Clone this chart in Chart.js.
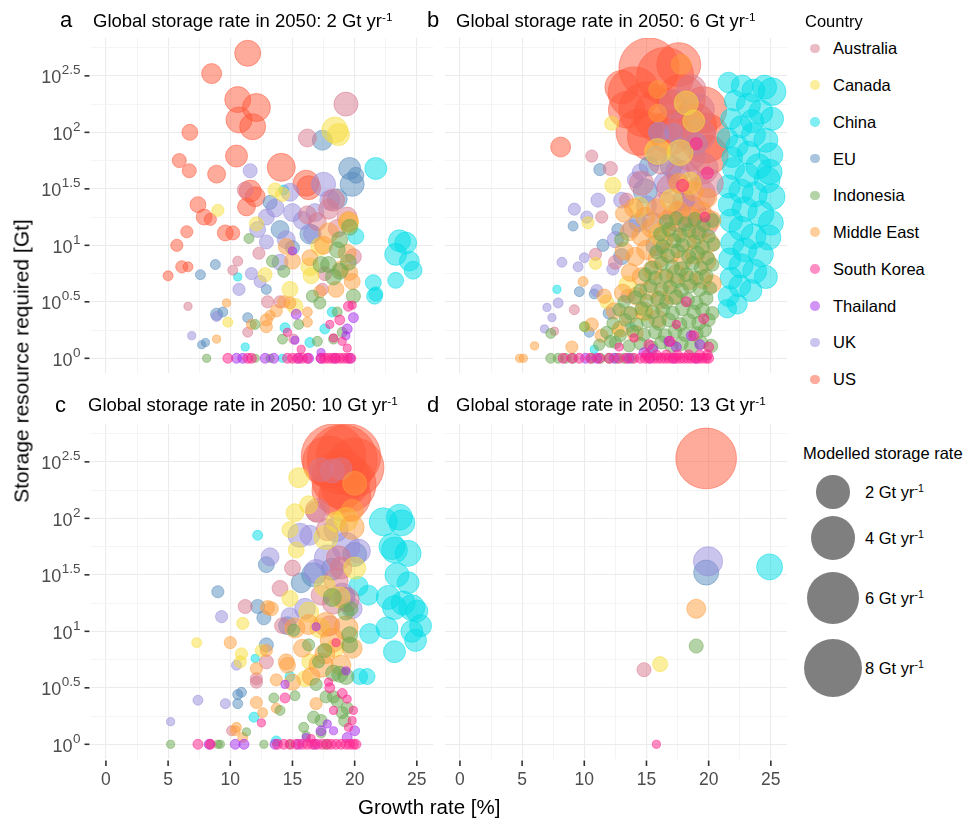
<!DOCTYPE html>
<html>
<head>
<meta charset="utf-8">
<script src="https://cdn.jsdelivr.net/npm/chart.js@4/dist/chart.umd.min.js"></script>
<style>
  body { margin: 0; background: #fff; font-family: "Liberation Sans", Arial, sans-serif; }
  #fig { position: relative; width: 967px; height: 820px; overflow: hidden; }
  canvas { position: absolute; }
  .txt { position: absolute; white-space: nowrap; color: #000; }
  .txt sup { font-size: 0.64em; vertical-align: 0.55em; line-height: 0; }
  .dot, .size { position: absolute; border-radius: 50%; }
</style>
</head>
<body>
<div id="fig">
  <canvas id="pa" width="440" height="395" style="left:0;top:0"></canvas>
  <canvas id="pb" width="350" height="395" style="left:440px;top:0"></canvas>
  <canvas id="pc" width="440" height="425" style="left:0;top:395px"></canvas>
  <canvas id="pd" width="350" height="425" style="left:440px;top:395px"></canvas>
</div>
<script>
const countries = ['Australia', 'Canada', 'China', 'EU', 'Indonesia', 'Middle East', 'South Korea', 'Thailand', 'UK', 'US'];
const countryColours = ['215,120,142', '247,222,60', '0,222,232', '85,140,190', '105,168,80',
  '255,158,60', '255,30,140', '165,40,240', '150,140,220', '255,88,58'];
// 0 is drawn on top
const drawRank = [5, 4, 8, 7, 2, 3, 0, 1, 6, 9];

const panelLetters = ['a', 'b', 'c', 'd'];
const panelRates = [2, 6, 10, 13];
const xTicks = [0, 5, 10, 15, 20, 25];
const xGrid = [0, 2.5, 5, 7.5, 10, 12.5, 15, 17.5, 20, 22.5, 25];
const yTickExps = [0, 0.5, 1, 1.5, 2, 2.5];
const yGridExps = [0, 0.25, 0.5, 0.75, 1, 1.25, 1.5, 1.75, 2, 2.25, 2.5, 2.75];
const legendRates = [2, 4, 6, 8];

// rows: [country, growth rate %, log10 storage resource (Gt), modelled storage rate (Gt/yr)]
const panelA = [
  ['US',11.4,2.70,1.0],['US',8.5,2.52,0.44],['US',10.6,2.29,1.0],['US',12.1,2.22,1.24],['US',10.7,2.11,1.0],
  ['US',11.8,2.05,1.0],['US',6.75,2.0,0.19],['US',10.5,1.79,0.6],['US',5.9,1.75,0.11],['US',6.7,1.66,0.11],
  ['US',8.9,1.63,0.3],['US',14.1,1.69,1.24],['US',16.1,1.55,1.0],['US',16.3,1.51,0.79],['US',11.6,1.48,0.6],
  ['US',12.0,1.43,0.44],['US',11.3,1.34,0.3],['US',7.4,1.36,0.19],['US',7.9,1.25,0.19],['US',8.4,1.23,0.05],
  ['US',9.6,1.11,0.19],['US',10.2,1.11,0.11],['US',6.5,1.12,0.05],['US',5.7,1.0,0.05],['US',5.0,0.73,0.01],
  ['US',6.1,0.81,0.05],['US',6.6,0.81,0.01],
  ['Australia',19.3,2.25,0.79],['Australia',16.2,1.95,0.3],['Australia',11.2,1.49,0.19],['Australia',18.3,1.40,0.6],
  ['Australia',17.9,1.32,0.44],['Australia',16.2,1.27,0.3],['Australia',17.0,1.21,0.3],['Australia',19.4,1.25,0.44],
  ['Australia',19.9,0.90,0.19],['Australia',12.3,0.93,0.05],['Australia',10.6,0.86,0.01],['Australia',10.2,0.78,0.01],
  ['Australia',13.0,0.50,0.05],['Australia',14.0,0.50,0.05],['Australia',17.4,0.61,0.05],['Australia',11.4,0.23,0.01],
  ['Australia',6.6,0.46,0.0],['Australia',15.1,0.17,0.01],['Australia',18.6,1.15,0.3],['Australia',17.6,0.75,0.11],
  ['EU',17.4,1.93,0.44],['EU',19.6,1.68,0.6],['EU',19.8,1.54,0.79],['EU',20.1,1.62,0.19],['EU',18.6,1.41,0.44],
  ['EU',13.2,1.38,0.11],['EU',14.0,1.14,0.3],['EU',16.4,1.10,0.44],['EU',7.6,0.74,0.01],['EU',8.8,0.83,0.01],
  ['EU',12.9,0.61,0.01],['EU',8.9,0.39,0.05],['EU',9.4,0.41,0.01],['EU',11.4,0.36,0.01],['EU',7.7,0.12,0.0],
  ['EU',8.0,0.14,0.0],['EU',15.0,0.98,0.11],
  ['UK',11.6,1.66,0.11],['UK',17.5,1.54,0.79],['UK',18.0,1.40,0.44],['UK',15.0,1.29,0.3],['UK',13.6,1.33,0.3],
  ['UK',12.9,1.25,0.19],['UK',12.2,1.14,0.19],['UK',12.9,1.03,0.11],['UK',14.5,1.05,0.3],['UK',11.7,0.75,0.05],
  ['UK',12.4,0.68,0.05],['UK',10.7,0.61,0.05],['UK',8.9,0.37,0.01],['UK',6.9,0.20,0.0],['UK',14.0,0.85,0.19],
  ['UK',15.8,1.22,0.3],['UK',16.8,1.29,0.3],['UK',14.8,1.47,0.3],['UK',16.6,1.1,0.3],
  ['Canada',18.4,2.02,1.0],['Canada',18.7,1.98,0.6],['Canada',13.6,1.49,0.11],['Canada',14.2,1.45,0.11],
  ['Canada',9.0,1.31,0.05],['Canada',12.1,1.19,0.11],['Canada',19.5,1.20,0.44],['Canada',17.2,0.99,0.3],
  ['Canada',12.8,0.74,0.11],['Canada',14.8,0.61,0.19],['Canada',15.2,0.46,0.19],['Canada',9.8,0.32,0.01],
  ['Canada',16.4,0.81,0.3],['Canada',16.5,0.73,0.19],
  ['China',21.7,1.68,0.6],['China',20.1,1.08,0.19],['China',23.6,1.04,0.6],['China',24.1,1.02,0.6],['China',23.3,0.92,0.6],
  ['China',24.4,0.86,0.44],['China',24.7,0.78,0.3],['China',23.3,0.69,0.19],['China',21.5,0.67,0.19],['China',21.6,0.55,0.19],
  ['China',21.7,0.57,0.11],['China',14.3,1.49,0.01],['China',17.6,0.26,0.01],['China',18.2,0.41,0.01],['China',10.6,0.72,0.0],
  ['China',11.2,0.10,0.0],['China',14.4,0.27,0.01],['China',16.4,0.14,0.01],['China',14.2,0.0,0.0],
  ['Indonesia',11.5,1.06,0.01],['Indonesia',19.6,1.16,0.19],['Indonesia',18.8,1.05,0.19],['Indonesia',18.6,0.96,0.19],
  ['Indonesia',17.3,0.83,0.19],['Indonesia',17.9,0.83,0.19],['Indonesia',19.5,0.85,0.19],['Indonesia',18.3,0.72,0.19],
  ['Indonesia',18.8,0.77,0.19],['Indonesia',13.4,0.86,0.05],['Indonesia',14.3,0.77,0.05],['Indonesia',16.6,0.55,0.05],
  ['Indonesia',17.2,0.49,0.05],['Indonesia',19.9,0.55,0.11],['Indonesia',12.0,0.30,0.01],['Indonesia',15.5,0.30,0.01],
  ['Indonesia',14.2,0.17,0.01],['Indonesia',17.0,0.15,0.01],['Indonesia',18.3,0.17,0.01],['Indonesia',19.0,0.23,0.01],
  ['Indonesia',8.1,0.0,0.0],['Indonesia',12.0,0.0,0.0],['Indonesia',13.2,0.0,0.0],['Indonesia',18.6,0.41,0.01],
  ['Middle East',19.5,1.21,0.44],['Middle East',17.9,1.11,0.44],['Middle East',17.5,1.00,0.3],['Middle East',14.5,0.99,0.19],
  ['Middle East',15.0,0.86,0.19],['Middle East',16.4,0.89,0.19],['Middle East',19.4,0.93,0.3],['Middle East',19.8,0.68,0.19],
  ['Middle East',18.5,0.61,0.19],['Middle East',14.8,0.49,0.05],['Middle East',14.3,0.50,0.05],['Middle East',13.7,0.42,0.05],
  ['Middle East',12.9,0.34,0.05],['Middle East',13.2,0.38,0.01],['Middle East',11.7,0.30,0.01],['Middle East',12.9,0.28,0.05],
  ['Middle East',9.7,0.49,0.0],['Middle East',8.9,0.17,0.0],['Middle East',16.2,0.41,0.01],['Middle East',16.2,0.32,0.01],
  ['Middle East',17.2,0.59,0.05],['Middle East',18.9,0.79,0.19],['Middle East',19.6,0.76,0.19],
  ['South Korea',19.5,0.46,0.01],['South Korea',19.8,0.47,0.0],['South Korea',18.8,0.34,0.01],['South Korea',19.4,0.09,0.0],
  ['South Korea',18.3,0.18,0.0],['South Korea',19.0,0.15,0.0],['South Korea',15.7,0.08,0.0],['South Korea',14.6,0.23,0.0],
  ['South Korea',18.0,0.30,0.0],
  ['South Korea',9.8,0,0.01],['South Korea',11.4,0,0.01],['South Korea',11.7,0,0.01],['South Korea',14.6,0,0.01],
  ['South Korea',15.0,0,0.01],['South Korea',15.4,0,0.01],['South Korea',15.8,0,0.01],['South Korea',16.2,0,0.01],
  ['South Korea',17.3,0,0.01],['South Korea',17.6,0,0.01],['South Korea',17.9,0,0.01],['South Korea',18.2,0,0.01],
  ['South Korea',18.5,0,0.01],['South Korea',18.8,0,0.01],['South Korea',19.1,0,0.01],['South Korea',19.4,0,0.01],
  ['South Korea',19.7,0,0.01],
  ['Thailand',10.5,0,0.01],['Thailand',11.0,0,0.01],['Thailand',12.8,0,0.01],['Thailand',13.5,0,0.01],['Thailand',15.5,0,0.01],
  ['Thailand',16.3,0,0.01],['Thailand',17.3,0,0.01],['Thailand',18.4,0,0.01],['Thailand',19.6,0,0.01],
  ['Thailand',15.3,0.39,0.01],['Thailand',19.9,0.36,0.01],['Thailand',19.4,0.26,0.01],['Thailand',15.2,0.16,0.0],
  ['Thailand',17.3,0.05,0.0],['Thailand',15.0,0.95,0.0],['Thailand',19.3,0.20,0.0]
];

const panelB = [
  ['US',15.2,2.57,8.5],['US',14.0,2.35,6.0],['US',16.5,2.5,7.5],['US',15.0,2.2,7.0],['US',16.2,2.15,7.0],
  ['US',14.4,2.0,4.5],['US',15.4,1.96,5.0],['US',17.8,2.3,5.0],['US',18.7,2.05,5.0],['US',19.7,1.95,5.5],
  ['US',19.6,2.2,4.5],['US',20.0,1.8,3.0],['US',17.0,2.0,4.0],['US',13.4,2.2,2.5],['US',13.0,2.4,2.0],
  ['US',17.6,2.6,4.0],['US',8.1,1.87,0.44],
  ['China',21.6,2.44,0.5],['China',22.7,2.41,0.6],['China',23.6,2.37,0.7],['China',24.5,2.40,0.8],['China',25.1,2.36,1.2],
  ['China',22.1,2.28,0.5],['China',23.2,2.24,0.8],['China',24.2,2.18,0.8],['China',25.1,2.12,0.7],['China',21.8,2.12,0.5],
  ['China',22.6,2.05,0.6],['China',23.6,1.98,0.8],['China',24.6,1.93,0.8],['China',25.0,1.80,0.8],['China',22.3,1.88,0.6],
  ['China',23.2,1.82,0.7],['China',24.0,1.70,0.9],['China',22.0,1.68,0.6],['China',23.1,1.62,0.8],['China',24.7,1.58,1.0],
  ['China',21.6,1.52,0.7],['China',22.6,1.48,0.8],['China',23.7,1.45,0.9],['China',25.1,1.43,1.0],['China',21.7,1.36,0.7],
  ['China',22.9,1.32,0.9],['China',24.2,1.28,1.0],['China',25.0,1.20,0.9],['China',21.8,1.22,0.7],['China',22.6,1.15,0.8],
  ['China',23.6,1.08,0.9],['China',24.8,1.07,0.9],['China',21.9,1.02,0.7],['China',22.9,0.96,0.8],['China',24.2,0.92,0.9],
  ['China',21.7,0.88,0.6],['China',22.6,0.82,0.8],['China',23.7,0.77,0.8],['China',24.6,0.72,0.7],['China',21.8,0.71,0.6],
  ['China',22.5,0.64,0.6],['China',23.4,0.60,0.6],['China',21.6,0.55,0.5],['China',22.3,0.48,0.45],['China',21.5,0.44,0.35],
  ['China',21.5,1.95,0.5],['China',21.9,1.78,0.5],['China',24.9,1.65,0.9],['China',23.5,2.1,0.7],
  ['China',7.8,0.61,0.0],['China',10.8,0.08,0.0],['China',13.7,0.28,0.01],
  ['UK',9.2,1.32,0.05],['UK',10.2,1.25,0.05],['UK',11.1,1.4,0.11],['UK',13.0,1.4,0.19],['UK',14.1,1.58,0.19],
  ['UK',8.2,0.85,0.01],['UK',9.5,0.81,0.01],['UK',7.0,0.45,0.0],['UK',7.9,0.49,0.01],['UK',7.4,0.36,0.0],
  ['UK',6.8,0.26,0.0],['UK',10.0,0.89,0.01],['UK',12.3,0.79,0.05],['UK',14.5,1.65,0.19],['UK',15.0,1.35,0.44],
  ['UK',15.8,1.79,0.44],['UK',17.2,2.0,0.3],['UK',16.5,1.55,0.6],['UK',17.5,1.65,0.8],['UK',13.8,1.15,0.3],
  ['UK',12.5,1.05,0.2],['UK',11.0,0.6,0.05],['UK',15.5,1.2,0.5],['UK',17.8,1.85,0.8],['UK',16.0,2.0,0.5],['UK',19.0,1.9,0.6],
  ['EU',11.25,1.67,0.05],['EU',9.1,1.17,0.01],['EU',11.5,1.0,0.05],['EU',9.6,0.59,0.01],['EU',10.8,0.57,0.01],
  ['EU',12.7,1.14,0.05],['EU',10.4,0.23,0.01],['EU',14.9,1.48,0.79],['EU',14.3,1.2,0.3],['EU',13.0,0.9,0.2],
  ['EU',15.8,1.0,0.5],['EU',17.0,1.7,0.6],['EU',18.0,1.4,0.6],['EU',12.0,0.4,0.05],['EU',15.2,1.7,0.4],
  ['Australia',18.6,2.38,1.4],['Australia',19.2,2.2,1.7],['Australia',18.0,2.05,2.0],['Australia',19.3,1.98,1.7],
  ['Australia',18.5,1.8,1.7],['Australia',19.5,1.68,1.7],['Australia',18.0,1.6,2.0],['Australia',17.0,1.5,1.4],
  ['Australia',19.2,1.45,2.0],['Australia',18.5,1.3,1.7],['Australia',17.5,1.25,1.4],['Australia',19.6,1.2,1.4],
  ['Australia',16.5,1.35,1.1],['Australia',20.0,1.55,1.4],['Australia',16.2,1.75,1.1],['Australia',14.6,1.55,0.8],
  ['Australia',10.6,1.79,0.05],['Australia',12.1,1.68,0.11],['Australia',11.4,1.25,0.05],['Australia',10.9,0.92,0.05],
  ['Australia',7.6,0.24,0.0],['Australia',9.2,0.43,0.01],['Australia',13.4,1.4,0.11],['Australia',17.2,2.25,1.4],
  ['Australia',12.5,0.85,0.1],['Australia',13.5,0.55,0.1],
  ['Canada',12.2,2.08,0.11],['Canada',10.3,1.2,0.05],['Canada',10.9,0.84,0.05],['Canada',17.7,1.82,1.0],
  ['Canada',18.2,2.26,0.79],['Canada',14.4,1.34,0.44],['Canada',10.1,0.28,0.01],['Canada',12.7,0.25,0.05],
  ['Canada',15.9,1.83,1.0],['Canada',18.5,1.55,0.6],['Canada',17.0,1.4,0.6],['Canada',13.5,0.65,0.3],
  ['Canada',11.8,0.5,0.1],['Canada',18.8,2.1,0.6],['Canada',16.0,1.1,0.5],['Canada',14.8,0.4,0.2],['Canada',12.3,1.53,0.2],
  ['Middle East',17.8,2.6,0.44],['Middle East',15.9,2.38,0.3],['Middle East',15.9,2.17,0.3],
  ['Middle East',13.2,1.28,0.25],['Middle East',14.0,1.33,0.35],['Middle East',14.9,1.25,0.4],['Middle East',15.8,1.32,0.45],
  ['Middle East',16.7,1.22,0.45],['Middle East',17.6,1.3,0.45],['Middle East',18.5,1.25,0.5],['Middle East',19.4,1.3,0.45],
  ['Middle East',20.2,1.22,0.4],['Middle East',13.6,1.12,0.3],['Middle East',14.6,1.08,0.4],['Middle East',15.4,1.15,0.35],
  ['Middle East',16.3,1.05,0.45],['Middle East',17.2,1.12,0.4],['Middle East',18.2,1.05,0.45],['Middle East',19.1,1.1,0.4],
  ['Middle East',20.1,1.02,0.35],['Middle East',13.2,0.95,0.3],['Middle East',14.1,0.9,0.35],['Middle East',15.0,0.96,0.4],
  ['Middle East',15.9,0.88,0.4],['Middle East',16.9,0.93,0.45],['Middle East',17.9,0.87,0.4],['Middle East',18.9,0.92,0.4],
  ['Middle East',19.8,0.86,0.4],['Middle East',13.7,0.76,0.3],['Middle East',14.6,0.72,0.35],['Middle East',15.5,0.78,0.4],
  ['Middle East',16.4,0.7,0.4],['Middle East',17.4,0.74,0.4],['Middle East',18.4,0.69,0.35],['Middle East',19.5,0.7,0.35],
  ['Middle East',20.3,0.66,0.3],['Middle East',13.1,0.58,0.25],['Middle East',14.2,0.55,0.3],['Middle East',15.2,0.6,0.35],
  ['Middle East',16.1,0.52,0.35],['Middle East',17.1,0.56,0.35],['Middle East',12.4,0.42,0.2],['Middle East',13.6,0.38,0.25],
  ['Middle East',14.8,0.42,0.3],['Middle East',15.9,0.35,0.3],['Middle East',12.9,0.26,0.2],['Middle East',14.1,0.22,0.2],
  ['Middle East',11.6,0.55,0.12],['Middle East',10.6,0.3,0.08],['Middle East',9.0,0.1,0.05],['Middle East',11.4,0.2,0.08],
  ['Middle East',4.8,0,0.0],['Middle East',5.1,0,0.0],['Middle East',6.0,0.11,0.0],['Middle East',9.9,0.68,0.01],
  ['Middle East',18.8,1.48,0.4],['Middle East',17.6,1.55,0.4],['Middle East',19.9,1.42,0.35],
  ['Indonesia',16.6,1.21,0.1],['Indonesia',17.4,1.24,0.08],['Indonesia',18.1,1.19,0.12],['Indonesia',18.9,1.23,0.1],
  ['Indonesia',19.6,1.18,0.08],['Indonesia',20.3,1.22,0.1],['Indonesia',16.1,1.10,0.08],['Indonesia',16.8,1.14,0.1],
  ['Indonesia',17.7,1.09,0.12],['Indonesia',18.4,1.13,0.1],['Indonesia',19.2,1.11,0.1],['Indonesia',20.0,1.08,0.08],
  ['Indonesia',16.3,0.99,0.1],['Indonesia',17.2,1.04,0.12],['Indonesia',17.9,1.00,0.1],['Indonesia',18.8,1.03,0.1],
  ['Indonesia',19.5,0.98,0.12],['Indonesia',20.4,1.01,0.08],['Indonesia',15.8,0.94,0.08],['Indonesia',16.7,0.91,0.1],
  ['Indonesia',17.5,0.95,0.1],['Indonesia',18.4,0.90,0.12],['Indonesia',19.1,0.93,0.1],['Indonesia',19.9,0.89,0.1],
  ['Indonesia',15.4,0.80,0.08],['Indonesia',16.2,0.84,0.1],['Indonesia',17.1,0.81,0.1],['Indonesia',17.8,0.79,0.12],
  ['Indonesia',18.7,0.84,0.1],['Indonesia',19.4,0.80,0.1],['Indonesia',20.3,0.83,0.08],['Indonesia',14.9,0.74,0.08],
  ['Indonesia',15.7,0.71,0.1],['Indonesia',16.6,0.73,0.1],['Indonesia',17.5,0.69,0.12],['Indonesia',18.2,0.74,0.1],
  ['Indonesia',19.0,0.71,0.12],['Indonesia',19.8,0.73,0.1],['Indonesia',14.5,0.60,0.08],['Indonesia',15.3,0.64,0.08],
  ['Indonesia',16.2,0.61,0.1],['Indonesia',16.9,0.63,0.1],['Indonesia',17.8,0.60,0.12],['Indonesia',18.5,0.64,0.1],
  ['Indonesia',19.3,0.61,0.1],['Indonesia',20.1,0.62,0.08],['Indonesia',13.2,0.50,0.06],['Indonesia',14.1,0.54,0.08],
  ['Indonesia',15.0,0.51,0.08],['Indonesia',15.9,0.53,0.1],['Indonesia',16.6,0.50,0.1],['Indonesia',17.4,0.54,0.12],
  ['Indonesia',18.3,0.52,0.1],['Indonesia',19.0,0.49,0.1],['Indonesia',19.8,0.53,0.1],['Indonesia',12.8,0.43,0.06],
  ['Indonesia',13.7,0.40,0.08],['Indonesia',14.6,0.44,0.08],['Indonesia',15.5,0.41,0.1],['Indonesia',16.3,0.43,0.1],
  ['Indonesia',17.1,0.40,0.1],['Indonesia',17.9,0.44,0.12],['Indonesia',18.8,0.41,0.1],['Indonesia',19.5,0.43,0.1],
  ['Indonesia',20.3,0.40,0.08],['Indonesia',12.3,0.31,0.05],['Indonesia',13.3,0.34,0.06],['Indonesia',14.2,0.30,0.08],
  ['Indonesia',15.1,0.33,0.08],['Indonesia',16.0,0.31,0.1],['Indonesia',16.8,0.34,0.1],['Indonesia',17.7,0.30,0.1],
  ['Indonesia',18.4,0.33,0.12],['Indonesia',19.2,0.31,0.1],['Indonesia',20.0,0.34,0.08],['Indonesia',11.8,0.23,0.05],
  ['Indonesia',12.9,0.20,0.05],['Indonesia',13.9,0.24,0.06],['Indonesia',14.8,0.21,0.08],['Indonesia',15.7,0.23,0.08],
  ['Indonesia',16.5,0.20,0.1],['Indonesia',17.3,0.24,0.1],['Indonesia',18.1,0.21,0.1],['Indonesia',19.0,0.22,0.1],
  ['Indonesia',19.7,0.25,0.08],['Indonesia',11.2,0.12,0.03],['Indonesia',12.5,0.14,0.05],['Indonesia',13.6,0.11,0.05],
  ['Indonesia',14.5,0.13,0.06],['Indonesia',15.4,0.10,0.06],['Indonesia',16.2,0.14,0.08],['Indonesia',17.0,0.11,0.08],
  ['Indonesia',17.8,0.13,0.1],['Indonesia',18.6,0.10,0.1],['Indonesia',19.4,0.14,0.08],['Indonesia',20.2,0.11,0.08],
  ['Indonesia',13.0,1.05,0.1],['Indonesia',7.3,0.22,0.01],['Indonesia',10.0,0.28,0.01],['Indonesia',12.1,0.15,0.05],
  ['Indonesia',7.3,0,0.01],['Indonesia',7.9,0,0.01],['Indonesia',8.5,0,0.01],['Indonesia',9.1,0,0.01],['Indonesia',10.6,0,0.01],
  ['Indonesia',11.3,0,0.01],['Indonesia',12.0,0,0.01],['Indonesia',12.6,0,0.01],['Indonesia',13.2,0,0.01],['Indonesia',13.8,0,0.01],
  ['Thailand',10.1,0,0.01],['Thailand',11.0,0,0.01],['Thailand',12.4,0,0.01],['Thailand',13.6,0,0.01],['Thailand',15.3,0,0.01],
  ['Thailand',17.2,0,0.01],['Thailand',19.0,0,0.01],['Thailand',15.5,0.08,0.01],['Thailand',17.4,0.1,0.01],
  ['Thailand',19.3,0.12,0.01],['Thailand',18.6,0.2,0.01],['Thailand',16.8,0.15,0.01],['Thailand',14.8,0.05,0.01],
  ['South Korea',19.0,1.9,0.05],['South Korea',19.9,1.64,0.05],['South Korea',17.9,1.53,0.05],['South Korea',19.7,1.25,0.01],
  ['South Korea',18.2,0.5,0.01],['South Korea',15.2,0.12,0.01],['South Korea',16.9,0.15,0.01],['South Korea',19.6,0.35,0.01],
  ['South Korea',18.8,0.2,0.01],['South Korea',20.0,0.1,0.01],['South Korea',14.0,0.18,0.0],['South Korea',12.8,0.1,0.0],
  ['South Korea',17.4,0.3,0.0],
  ['South Korea',8.3,0,0.01],['South Korea',9.0,0,0.01],['South Korea',9.6,0,0.01],['South Korea',10.5,0,0.01],
  ['South Korea',11.2,0,0.01],['South Korea',12.0,0,0.01],['South Korea',12.8,0,0.01],['South Korea',13.4,0,0.01],
  ['South Korea',14.0,0,0.01],['South Korea',14.5,0,0.01],['South Korea',14.9,0,0.01],['South Korea',15.2,0,0.01],
  ['South Korea',15.6,0,0.01],['South Korea',15.9,0,0.01],['South Korea',16.2,0,0.01],['South Korea',16.5,0,0.01],
  ['South Korea',16.8,0,0.01],['South Korea',17.1,0,0.01],['South Korea',17.4,0,0.01],['South Korea',17.7,0,0.01],
  ['South Korea',18.0,0,0.01],['South Korea',18.3,0,0.01],['South Korea',18.6,0,0.01],['South Korea',18.9,0,0.01],
  ['South Korea',19.2,0,0.01],['South Korea',19.5,0,0.01],['South Korea',19.8,0,0.01],['South Korea',20.0,0,0.01],
  ['South Korea',15.0,0.03,0.01],['South Korea',15.8,0.03,0.01],['South Korea',16.6,0.03,0.01],['South Korea',17.5,0.03,0.01],
  ['South Korea',18.4,0.03,0.01],['South Korea',19.3,0.03,0.01],['South Korea',19.9,0.03,0.01]
];

const panelC = [
  ['US',18.3,2.55,10],['US',19.5,2.55,10],['US',19.0,2.52,12],['US',18.9,2.35,8],['US',19.5,2.3,7],
  ['US',19.2,2.2,6],['US',18.5,2.25,5],['US',20.0,2.45,8],['US',17.9,2.5,6],
  ['Australia',17.3,2.43,0.79],['Australia',18.2,2.42,0.79],['Australia',18.9,2.44,0.6],['Australia',17.0,2.07,0.79],
  ['Middle East',20.0,2.31,0.79],['Middle East',19.8,2.07,0.6],['Middle East',19.8,1.92,0.79],
  ['China',22.3,1.97,1.24],['China',23.6,2.01,1.0],['China',23.8,1.96,1.0],['China',23.0,1.75,1.0],['China',23.2,1.72,1.0],
  ['China',24.3,1.69,1.0],['China',23.4,1.5,0.79],['China',24.3,1.43,0.6],['China',21.1,1.32,0.44],['China',22.7,1.30,0.79],
  ['China',23.2,1.21,0.79],['China',24.6,1.21,1.0],['China',25.3,1.05,0.6],['China',22.6,1.03,0.6],['China',24.6,1.0,0.6],
  ['China',24.9,0.92,0.6],['China',21.2,0.98,0.44],['China',23.2,0.82,0.6],['China',21.0,0.6,0.19],['China',20.4,0.6,0.19],
  ['China',25.0,1.18,0.6],['China',23.9,1.25,0.8],['China',12.2,1.85,0.01],['China',12.0,0.76,0.0],['China',11.9,0.24,0.01],
  ['China',13.7,0.03,0.01],['China',14.8,0.6,0.01],['China',20.3,1.4,0.4],
  ['Canada',15.5,2.36,0.44],['Canada',15.2,2.05,0.3],['Canada',14.8,1.9,0.19],['Canada',15.3,1.72,0.19],
  ['Canada',16.3,2.12,0.3],['Canada',17.7,1.83,0.79],['Canada',18.5,1.97,0.44],['Canada',20.0,1.56,0.6],
  ['Canada',19.3,1.99,0.79],['Canada',11.0,1.07,0.05],['Canada',7.3,0.90,0.01],['Canada',10.9,0.80,0.05],
  ['Canada',10.8,0.73,0.05],['Canada',12.5,0.83,0.05],['Canada',14.8,1.29,0.19],['Canada',16.3,1.17,0.44],
  ['Canada',17.2,1.03,0.44],['Canada',18.4,0.85,0.3],['Canada',16.4,0.73,0.19],['Canada',16.0,0.58,0.19],
  ['Canada',17.6,1.4,0.5],['Canada',18.8,1.3,0.5],
  ['EU',9.0,1.35,0.05],['EU',12.2,1.22,0.11],['EU',12.7,1.12,0.11],['EU',12.9,1.59,0.19],['EU',10.6,0.44,0.01],
  ['EU',10.9,0.46,0.01],['EU',10.6,0.36,0.01],['EU',12.9,0.88,0.11],['EU',15.7,1.43,0.44],['EU',16.7,1.5,0.79],
  ['EU',20.0,1.68,0.79],['EU',14.6,1.05,0.3],['EU',18.2,1.55,0.6],['EU',19.2,1.3,0.5],
  ['UK',13.2,1.66,0.3],['UK',9.3,1.13,0.05],['UK',7.4,0.39,0.01],['UK',9.6,0.36,0.01],['UK',5.2,0.20,0.0],
  ['UK',10.5,0.70,0.01],['UK',16.9,1.53,0.79],['UK',20.3,1.71,0.79],['UK',19.3,1.75,1.24],['UK',15.6,1.85,0.79],
  ['UK',16.4,1.85,0.44],['UK',19.0,1.32,0.79],['UK',14.8,1.13,0.3],['UK',19.8,1.2,0.44],['UK',17.8,1.65,1.0],
  ['UK',18.5,1.9,0.8],['UK',16.0,1.2,0.5],
  ['Australia',11.2,1.22,0.11],['Australia',14.0,1.38,0.19],['Australia',15.0,1.56,0.19],['Australia',16.9,2.06,0.44],
  ['Australia',17.3,1.32,0.44],['Australia',18.5,1.45,0.79],['Australia',18.9,1.56,0.6],['Australia',19.4,1.28,0.79],
  ['Australia',14.2,1.05,0.19],['Australia',10.1,0.12,0.01],['Australia',12.1,0.58,0.05],['Australia',12.1,0.55,0.05],
  ['Australia',12.9,0.73,0.11],['Australia',18.0,1.05,0.44],['Australia',18.3,1.25,0.6],['Australia',18.7,1.65,0.8],
  ['Australia',17.8,1.9,0.6],
  ['Middle East',10.0,0.90,0.05],['Middle East',13.0,1.21,0.11],['Middle East',13.3,1.2,0.11],['Middle East',12.9,0.83,0.05],
  ['Middle East',12.1,0.67,0.05],['Middle East',13.7,0.57,0.05],['Middle East',12.1,0.37,0.05],['Middle East',12.6,0.28,0.01],
  ['Middle East',13.7,0.32,0.01],['Middle East',10.5,0.15,0.01],['Middle East',11.0,0.06,0.01],['Middle East',10.4,0.12,0.01],
  ['Middle East',8.4,0,0.0],['Middle East',14.5,0.73,0.19],['Middle East',14.6,0.70,0.19],['Middle East',16.9,0.36,0.05],
  ['Middle East',15.2,1.03,0.44],['Middle East',16.3,1.06,0.44],['Middle East',17.7,1.06,0.79],['Middle East',18.2,0.92,0.79],
  ['Middle East',19.3,1.03,0.79],['Middle East',19.8,0.85,0.44],['Middle East',17.3,0.70,0.79],['Middle East',18.9,0.70,0.44],
  ['Middle East',17.6,0.80,0.44],['Middle East',15.8,0.85,0.3],['Middle East',15.0,0.55,0.2],['Middle East',16.5,0.6,0.3],
  ['Indonesia',15.1,1.01,0.05],['Indonesia',16.3,0.88,0.05],['Indonesia',17.1,0.73,0.05],['Indonesia',17.6,0.83,0.11],
  ['Indonesia',19.3,1.17,0.19],['Indonesia',19.7,1.2,0.11],['Indonesia',19.6,0.97,0.19],['Indonesia',19.6,0.88,0.19],
  ['Indonesia',18.3,0.63,0.19],['Indonesia',18.8,0.62,0.19],['Indonesia',19.3,0.60,0.19],['Indonesia',16.9,0.53,0.05],
  ['Indonesia',17.7,0.42,0.05],['Indonesia',18.3,0.42,0.05],['Indonesia',18.6,0.38,0.05],['Indonesia',19.0,0.28,0.05],
  ['Indonesia',19.4,0.32,0.05],['Indonesia',16.7,0.24,0.05],['Indonesia',17.3,0.21,0.05],['Indonesia',19.2,0.21,0.05],
  ['Indonesia',15.2,0.43,0.01],['Indonesia',13.5,0.41,0.01],['Indonesia',14.0,0.30,0.01],['Indonesia',11.3,0.11,0.0],
  ['Indonesia',15.9,0.15,0.01],['Indonesia',16.1,0.08,0.0],['Indonesia',17.3,0.10,0.01],['Indonesia',17.7,0,0.01],
  ['Indonesia',5.2,0,0.0],['Indonesia',9.0,0,0.0],['Indonesia',9.2,0,0.0],['Indonesia',12.7,0,0.0],
  ['Indonesia',14.8,0,0.0],['Indonesia',18.2,1.3,0.3],
  ['South Korea',7.4,0,0.01],['South Korea',8.4,0,0.01],['South Korea',13.8,0,0.01],['South Korea',14.3,0,0.01],
  ['South Korea',14.8,0,0.01],['South Korea',15.3,0,0.01],['South Korea',15.8,0,0.01],['South Korea',16.2,0,0.01],
  ['South Korea',16.6,0,0.01],['South Korea',17.0,0,0.01],['South Korea',17.4,0,0.01],['South Korea',17.8,0,0.01],
  ['South Korea',18.1,0,0.01],['South Korea',18.5,0,0.01],['South Korea',18.9,0,0.01],['South Korea',19.3,0,0.01],
  ['South Korea',19.6,0,0.01],['South Korea',19.9,0,0.01],['South Korea',20.1,0,0.01],
  ['South Korea',14.4,0.41,0.01],['South Korea',12.5,0.19,0.0],['South Korea',19.0,0.45,0.01],['South Korea',19.4,0.40,0.0],
  ['South Korea',19.9,0.30,0.0],['South Korea',19.8,0.21,0.0],['South Korea',18.0,0.50,0.01],['South Korea',17.9,0.55,0.0],
  ['South Korea',18.5,0.9,0.0],['South Korea',19.5,0.15,0.0],['South Korea',18.3,0.3,0.0],['South Korea',16.5,0.05,0.0],
  ['Thailand',8.3,0,0.01],['Thailand',10.4,0,0.01],['Thailand',11.1,0,0.01],['Thailand',13.6,0,0.01],['Thailand',15.5,0,0.01],
  ['Thailand',16.8,0,0.01],['Thailand',16.9,1.04,0.0],['Thailand',17.3,0.12,0.01],['Thailand',20.0,0.12,0.01],
  ['Thailand',19.4,0.06,0.01],['Thailand',18.3,0.12,0.0],['Thailand',16.1,0.06,0.0],['Thailand',14.4,0.53,0.0],
  ['Thailand',19.3,0.65,0.0],['Thailand',17.8,0.18,0.0]
];

const panelD = [
  ['US',19.8,2.53,8.7],['UK',19.95,1.62,1.4],['EU',19.8,1.52,0.9],['China',24.9,1.57,1.0],
  ['Middle East',19.0,1.2,0.37],['Indonesia',19.0,0.87,0.11],['Canada',16.1,0.71,0.15],
  ['Australia',14.8,0.66,0.11],['South Korea',15.8,0,0.0]
];

const FONT = '"Liberation Sans", Arial, sans-serif';
const bubbleRadius = rate => 4.1 + 8.9 * Math.sqrt(rate);
const isMajorExp = v => { const e = Math.log10(v) * 2; return Math.abs(e - Math.round(e)) < 1e-6; };

function axisLabels(showX, showY) {
  return {
    id: 'axisLabels',
    afterDraw(chart) {
      const { ctx, chartArea: a, scales: { x, y } } = chart;
      ctx.save();
      ctx.fillStyle = '#4d4d4d';
      ctx.strokeStyle = '#333';
      ctx.lineWidth = 1.6;
      ctx.textBaseline = 'alphabetic';
      if (showY) {
        yTickExps.forEach(e => {
          const py = y.getPixelForValue(10 ** e);
          ctx.beginPath(); ctx.moveTo(a.left - 6.5, py); ctx.lineTo(a.left - 1.5, py); ctx.stroke();
          const sup = String(e);
          ctx.textAlign = 'right';
          ctx.font = '13.5px ' + FONT;
          const wSup = ctx.measureText(sup).width;
          const right = a.left - 10.5;
          ctx.fillText(sup, right, py - 1.5);
          ctx.font = '18px ' + FONT;
          ctx.fillText('10', right - wSup - 0.5, py + 7.5);
        });
      }
      if (showX) {
        xTicks.forEach(v => {
          const px = x.getPixelForValue(v);
          ctx.beginPath(); ctx.moveTo(px, a.bottom + 1.5); ctx.lineTo(px, a.bottom + 7); ctx.stroke();
          ctx.textAlign = 'center';
          ctx.font = '17.5px ' + FONT;
          ctx.fillText(String(v), px, a.bottom + 26);
        });
      }
      ctx.restore();
    }
  };
}

function makePanel(id, rows, showX, showY, padding) {
  const datasets = countries.map((c, i) => ({
    label: c,
    data: rows.filter(p => p[0] === c).map(p => ({ x: p[1], y: 10 ** p[2], r: bubbleRadius(p[3]) })),
    backgroundColor: `rgba(${countryColours[i]},0.5)`,
    borderColor: `rgba(${countryColours[i]},0.5)`,
    borderWidth: 1,
    order: drawRank[i],
    clip: { left: 0, top: 0, right: 0, bottom: 0 }
  }));
  new Chart(document.getElementById(id), {
    type: 'bubble',
    data: { datasets },
    options: {
      responsive: false, animation: false, devicePixelRatio: 1, events: [],
      layout: { padding, autoPadding: false },
      plugins: { legend: { display: false }, tooltip: { enabled: false } },
      scales: {
        x: {
          type: 'linear', min: -1.2, max: 26.3, bounds: 'data',
          afterBuildTicks: s => { s.ticks = xGrid.map(v => ({ value: v })); },
          ticks: { display: false }, border: { display: false },
          grid: { drawTicks: false,
            color: c => (c.tick && c.tick.value % 5 === 0) ? '#ebebeb' : '#f3f3f3',
            lineWidth: c => (c.tick && c.tick.value % 5 === 0) ? 1.1 : 0.9 }
        },
        y: {
          type: 'logarithmic', min: 10 ** -0.13, max: 10 ** 2.835, bounds: 'data',
          afterBuildTicks: s => { s.ticks = yGridExps.map(e => ({ value: 10 ** e })); },
          ticks: { display: false }, border: { display: false },
          grid: { drawTicks: false,
            color: c => (c.tick && isMajorExp(c.tick.value)) ? '#ebebeb' : '#f3f3f3',
            lineWidth: c => (c.tick && isMajorExp(c.tick.value)) ? 1.1 : 0.9 }
        }
      }
    },
    plugins: [axisLabels(showX, showY)]
  });
}

makePanel('pa', panelA, false, true, { left: 91, right: 7, top: 38, bottom: 22 });
makePanel('pb', panelB, false, false, { left: 5, right: 3, top: 38, bottom: 22 });
makePanel('pc', panelC, true, true, { left: 91, right: 7, top: 29, bottom: 61 });
makePanel('pd', panelD, true, false, { left: 5, right: 3, top: 29, bottom: 61 });

// text and legends
const fig = document.getElementById('fig');
function addText(html, left, top, size, extra) {
  const d = document.createElement('div');
  d.className = 'txt';
  d.innerHTML = html;
  d.style.left = left + 'px';
  d.style.top = top + 'px';
  d.style.fontSize = size + 'px';
  d.style.lineHeight = size + 'px';
  if (extra) Object.assign(d.style, extra);
  fig.appendChild(d);
  return d;
}
const letterPos = [[60, 9.4], [427, 9.4], [55, 394.4], [427, 394.4]];
const titlePos = [[93, 11.8], [456, 11.8], [88, 396.3], [456, 396.3]];
panelLetters.forEach((l, i) => {
  addText(l, letterPos[i][0], letterPos[i][1], 22);
  addText(`Global storage rate in 2050: ${panelRates[i]} Gt yr<sup>-1</sup>`, titlePos[i][0], titlePos[i][1], 18.5);
});
addText('Growth rate [%]', 358, 796.6, 20.5);
addText('Storage resource required [Gt]', 21, 361, 21, { transform: 'translate(-50%,-50%) rotate(-90deg)' });

addText('Country', 805, 13, 16.5);
countries.forEach((c, i) => {
  const cy = 48.3 + i * 36.78;
  const dot = document.createElement('div');
  dot.className = 'dot';
  Object.assign(dot.style, { left: (815 - 4.8) + 'px', top: (cy - 4.8) + 'px', width: '9.6px', height: '9.6px',
    background: `rgba(${countryColours[i]},0.5)` });
  fig.appendChild(dot);
  addText(c, 833, cy - 8.07, 16.5);
});

addText('Modelled storage rate', 803, 445, 16.5);
const sizeY = [492, 538, 598, 668];
legendRates.forEach((s, i) => {
  const r = bubbleRadius(s);
  const c = document.createElement('div');
  c.className = 'size';
  Object.assign(c.style, { left: (833 - r) + 'px', top: (sizeY[i] - r) + 'px', width: 2 * r + 'px', height: 2 * r + 'px',
    background: 'rgba(0,0,0,0.5)' });
  fig.appendChild(c);
  addText(`${s} Gt yr<sup>-1</sup>`, 865, sizeY[i] - 8.07, 16.5);
});
</script>
</body>
</html>
